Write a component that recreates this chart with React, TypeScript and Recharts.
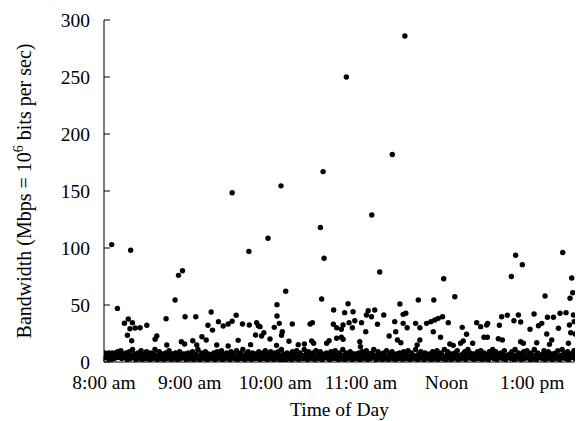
import React from 'react';
import { ScatterChart, Scatter, XAxis, YAxis, Label } from 'recharts';

const FONT = '"Liberation Serif", "Times New Roman", serif';
const FONT_SIZE = 19.5;

// minutes after 8:00 am
const timeTicks = [0, 60, 120, 180, 240, 300];
const timeTickLabels = ['8:00 am', '9:00 am', '10:00 am', '11:00 am', 'Noon', '1:00 pm'];
const bandwidthTicks = [0, 50, 100, 150, 200, 250, 300];

// [minutes after 8:00, Mbps]
const peakPoints: [number, number][] = [
  [5.4, 103], [18.7, 98], [52.2, 76], [55, 80], [89.8, 148.5], [101.5, 97], [114.9, 108.5],
  [124, 154.5], [127.3, 62], [151.6, 118], [153.5, 167], [154.2, 91], [169.8, 250],
  [187.6, 129], [193.2, 79], [202, 182], [210.8, 286], [238, 73], [285.4, 75], [288.4, 93.6],
  [293.1, 85.4], [321.4, 96], [327.7, 73.7], [328.4, 60.8],
];

const midPoints: [number, number][] = [
  [9.4, 47], [14.3, 34], [17, 37.7], [19.9, 34.5], [16.4, 23.4], [18.2, 29.2], [21.8, 29.8],
  [25.3, 30.1], [30, 32.2], [19.4, 18.7], [35.8, 19.9], [37, 22.8], [49.8, 54.4], [43.5, 38],
  [56.8, 39.7], [64.3, 39.7], [75.1, 43.9], [72.8, 32.2], [76, 28], [54.2, 17.8], [56.5, 15.8],
  [62.2, 18.7], [65, 14.9], [68.6, 22.2], [71.6, 19.3], [44, 14.9], [79, 14.9], [80.2, 35.4],
  [121.2, 50.3], [121.2, 40.4], [122.8, 33.9], [119.3, 30.4], [124.9, 26.6], [124.4, 23.4],
  [152.5, 55.3], [160.9, 45.6], [160.7, 33.1], [163, 30.1], [83.5, 31.6], [87, 33.3],
  [89.8, 35.7], [92.6, 41], [97, 33.3], [101.8, 32.5], [106.9, 34.5], [108.1, 31.8],
  [109.3, 31], [106.2, 23.7], [110.4, 22.8], [112, 25.7], [116.3, 20.2], [94, 19],
  [131.9, 33.3], [129.6, 18.2], [144.4, 33.3], [146, 34.5], [145.5, 18.4], [146.9, 16.4],
  [156, 16.4], [157.7, 18.7], [87, 14], [102.7, 15.2], [120.9, 14.6], [136.1, 15.2],
  [140.4, 15.8], [163, 20.8],
  [171, 51.1], [168.6, 43.3], [174.5, 44.1], [185.1, 45], [183.9, 41.2], [187.4, 39.7],
  [189.7, 45.6], [196, 41.2], [207.3, 50.9], [209.6, 41.8], [211.5, 42.7], [220.2, 54.4],
  [231.1, 54.4], [245.8, 57.3], [167.5, 32.5], [171.7, 34.5], [175.7, 36.2], [180.4, 34.5],
  [166.3, 28.7], [174, 30.1], [191.6, 33.1], [203.7, 35.4], [209.6, 33.9], [212.4, 30.1],
  [218.3, 33.9], [221.3, 30.1], [226, 33.9], [229, 35.4], [231.8, 36.8], [234.2, 38.3],
  [237.2, 39.7], [241.2, 34.5], [183.4, 26.6], [204.4, 26.6], [230.7, 26.6], [166.3, 21.7],
  [167.5, 19.9], [179.2, 17.8], [179.7, 13.4], [199.8, 22.8], [205.6, 19.3], [208, 16.9],
  [221.3, 19.3], [219.4, 14.9], [235.8, 21.7], [242.3, 15.8], [244.7, 14.6],
  [309, 57.9], [326.5, 55.9], [278.6, 39.7], [282.6, 41], [290.3, 41.2], [301.3, 42.1],
  [310.7, 39.2], [314.9, 39.2], [319.5, 42.7], [323.7, 43.3], [328.9, 41.2], [251, 30.4],
  [261.1, 34.5], [263.9, 31], [268.1, 32.5], [268.8, 33.9], [277, 32.2], [287.2, 36.2],
  [291.9, 35.1], [298.5, 28.7], [304.4, 31.8], [306.7, 33.9], [318.4, 29.6], [326.1, 32.5],
  [329.4, 35.4], [327, 25.7], [330.1, 24.6], [254, 24.3], [266.2, 21.7], [268.6, 21.7],
  [276.3, 20.4], [279.1, 19.3], [310.2, 24.6], [313.7, 19.3], [312.1, 15.5], [291.9, 17.8],
  [293.8, 16.4], [303.2, 16.9], [249.8, 16.4], [251.7, 18.4], [258.3, 16.4], [325.4, 16.4],
];

const lowPoints: [number, number][] = [
  [0.5, 8], [1.2, 4], [2, 7], [2.8, 3], [3.5, 8], [4.3, 5], [5, 2], [5.8, 8], [6.5, 6], [7.3, 3],
  [8, 8], [8.8, 5], [9.6, 9], [10.3, 4], [11, 7], [11.8, 10], [12.5, 3], [13.3, 6], [14, 7], [14.8, 4],
  [15.5, 8], [16.3, 2], [17, 5], [17.8, 9], [18.5, 3], [19.3, 6], [20, 11], [20.8, 4], [21.6, 7], [22.3, 2],
  [23, 5], [23.8, 8], [24.5, 3], [25.3, 6], [26, 10], [26.8, 2], [27.5, 5], [28.3, 7], [29, 3], [29.8, 9],
  [30.6, 4], [31.3, 6], [32, 2], [32.7, 8], [33.5, 5], [34.2, 3], [35, 7], [35.7, 11], [36.4, 4], [37.2, 2],
  [38, 6], [38.7, 9], [39.5, 3], [40.2, 5], [41, 7], [41.7, 2], [42.5, 4], [43.2, 8], [44.1, 3], [44.8, 6],
  [45.6, 10], [46.3, 4], [47, 2], [47.8, 7], [48.5, 5], [49.3, 3], [50, 8], [50.8, 6], [51.5, 2], [52.3, 4],
  [53, 9], [53.8, 3], [54.6, 6], [55.3, 7], [56, 4], [56.8, 7], [57.5, 2], [58.3, 5], [59, 8], [59.8, 3],
  [60.5, 6], [61.3, 4], [62, 9], [62.8, 2], [63.5, 5], [64.2, 7], [65.1, 3], [65.8, 11], [66.6, 5], [67.3, 2],
  [68, 8], [68.8, 4], [69.5, 6], [70.3, 3], [71, 9], [71.8, 5], [72.5, 2], [73.3, 7], [74, 4], [74.8, 6],
  [75.5, 3], [76.3, 6], [77, 8], [77.8, 2], [78.5, 5], [79.3, 9], [80, 3], [80.8, 6], [81.5, 4], [82.3, 10],
  [83, 2], [83.8, 7], [84.5, 5], [85.3, 3], [86, 8], [86.8, 4], [87.5, 6], [88.3, 2], [89, 9], [89.8, 4],
  [90.5, 7], [91.3, 3], [92, 5], [92.8, 10], [93.5, 2], [94.3, 6], [95, 4], [95.8, 8], [96.5, 3], [97.3, 11],
  [98, 5], [98.8, 2], [99.5, 7], [100.3, 4], [101, 9], [101.8, 3], [102.5, 6], [103.3, 2], [104, 8], [104.8, 5],
  [105.5, 7], [106.3, 3], [107, 7], [107.8, 4], [108.5, 9], [109.3, 2], [110, 6], [110.8, 4], [111.5, 8], [112.3, 3],
  [113, 10], [113.8, 5], [114.5, 2], [115.3, 7], [116, 4], [116.8, 9], [117.5, 3], [118.3, 6], [119, 2], [119.8, 8],
  [120.5, 5], [121.3, 3], [122, 9], [122.8, 6], [123.5, 2], [124.3, 11], [125, 4], [125.8, 7], [126.8, 0.5], [127.5, 5],
  [128.3, 8], [129, 3], [129.8, 6], [130.5, 6], [131.3, 2], [132, 9], [132.8, 4], [133.5, 7], [134.3, 3], [135, 10],
  [135.8, 5], [136.5, 2], [137.3, 8], [138, 4], [138.8, 6], [139.5, 3], [140.3, 11], [141, 5], [141.8, 7], [142.5, 2],
  [143.3, 9], [144, 4], [144.8, 6], [145.5, 3], [146.3, 8], [147, 5], [147.8, 2], [148.5, 10], [149.3, 4], [150, 7],
  [150.8, 3], [151.5, 9], [152.3, 5], [153, 2], [153.8, 6], [154.5, 7], [155.3, 4], [156, 8], [156.8, 3], [157.5, 6],
  [158.3, 2], [159, 9], [159.8, 5], [160.5, 7], [161.3, 3], [162, 10], [162.8, 4], [163.5, 6], [164.3, 2], [165, 8],
  [165.8, 5], [166.5, 3], [167.3, 11], [168, 6], [168.8, 2], [169.5, 8], [170.3, 4], [171, 6], [171.8, 3], [172.5, 9],
  [173.3, 5], [174, 2], [174.8, 7], [175.5, 4], [176.3, 7], [177, 3], [177.8, 6], [178.5, 8], [179.3, 2], [180, 5],
  [180.8, 9], [181.5, 3], [182.3, 6], [183, 4], [183.8, 10], [184.5, 2], [185.3, 7], [186, 5], [186.8, 3], [187.5, 8],
  [188.3, 4], [189, 11], [189.8, 6], [190.5, 2], [191.3, 5], [192, 9], [192.8, 3], [193.5, 7], [194.3, 4], [195, 2],
  [195.8, 8], [196.5, 6], [197.3, 3], [198, 10], [198.8, 5], [199.5, 2], [200.3, 7], [201, 4], [201.8, 9], [202.5, 3],
  [203.3, 6], [204, 2], [204.8, 7], [205.5, 5], [206.3, 3], [207, 8], [207.8, 4], [208.5, 6], [209.3, 2], [210, 9],
  [210.8, 4], [211.5, 7], [212.3, 3], [213, 10], [213.8, 5], [214.5, 2], [215.3, 8], [216, 4], [216.8, 6], [217.5, 3],
  [218.3, 11], [219, 5], [219.8, 2], [220.5, 7], [221.3, 4], [222, 9], [222.8, 3], [223.5, 6], [224.3, 2], [225, 8],
  [225.8, 5], [226.5, 6], [227.3, 3], [228, 7], [228.8, 4], [229.5, 2], [230.3, 9], [231, 5], [231.8, 3], [232.5, 6],
  [233.3, 10], [234, 2], [234.8, 7], [235.5, 4], [236.3, 8], [237, 3], [237.8, 5], [238.5, 11], [239.3, 2], [240, 6],
  [240.8, 9], [241.5, 4], [242.3, 7], [243, 2], [243.8, 7], [244.5, 5], [245.3, 3], [246, 8], [246.8, 6], [247.5, 10],
  [248.3, 2], [249, 5], [249.8, 6], [250.5, 3], [251.3, 7], [252, 4], [252.8, 9], [253.5, 2], [254.3, 6], [255, 11],
  [255.8, 4], [256.5, 8], [257.3, 3], [258, 5], [258.8, 7], [259.5, 2], [260.3, 7], [261, 4], [261.8, 9], [262.5, 3],
  [263.3, 6], [264, 10], [264.8, 2], [265.5, 5], [266.3, 8], [267, 3], [267.8, 6], [268.5, 6], [269.3, 2], [270, 9],
  [270.8, 4], [271.5, 7], [272.3, 11], [273, 3], [273.8, 5], [274.5, 9], [275.3, 2], [276, 6], [276.8, 7], [277.5, 4],
  [278.3, 8], [279, 3], [279.8, 6], [280.5, 10], [281.3, 2], [282, 5], [282.8, 6], [283.5, 4], [284.3, 7], [285, 3],
  [285.8, 9], [286.5, 5], [287.3, 2], [288, 11], [288.8, 6], [289.5, 3], [290.3, 8], [291, 4], [291.8, 7], [292.5, 2],
  [293.3, 6], [294, 9], [294.8, 3], [295.5, 5], [296.3, 10], [297, 4], [297.8, 7], [298.5, 2], [299.3, 8], [300, 5],
  [300.8, 3], [301.5, 11], [302.3, 6], [303, 2], [303.8, 8], [304.5, 4], [305.3, 6], [306, 5], [306.8, 3], [307.5, 7],
  [308.3, 10], [309, 2], [309.8, 6], [310.5, 4], [311.3, 9], [312, 3], [312.8, 5], [313.5, 7], [314.3, 2], [315, 7],
  [315.8, 4], [316.5, 8], [317.3, 3], [318, 10], [318.8, 5], [319.5, 2], [320.3, 6], [321, 11], [321.8, 4], [322.5, 8],
  [323.3, 3], [324, 5], [324.8, 9], [325.5, 2], [326.3, 7], [327, 7], [327.8, 4], [328.5, 6], [329.3, 10], [330, 3],
];

const data = [...lowPoints, ...midPoints, ...peakPoints].map(([t, v]) => ({ t, v }));

const formatTime = (value: number) => {
  const i = timeTicks.indexOf(value);
  return i >= 0 ? timeTickLabels[i] : '';
};

const Dot = (props: any) => <circle cx={props.cx} cy={props.cy} r={2.7} fill="#000" />;

const YLabel = (props: any) => {
  const vb = props.viewBox || { x: 0, y: 20, width: 104, height: 342 };
  const cx = vb.x + 31;
  const cy = vb.y + vb.height / 2;
  return (
    <text
      x={cx}
      y={cy}
      transform={`rotate(-90 ${cx} ${cy})`}
      textAnchor="middle"
      fontFamily={FONT}
      fontSize={20}
      fill="#000"
    >
      Bandwidth (Mbps = 10
      <tspan dy={-8} fontSize={14}>6</tspan>
      <tspan dy={8}> bits per sec)</tspan>
    </text>
  );
};

const tickStyle = { fontSize: FONT_SIZE, fill: '#000', fontFamily: FONT };

export default function App() {
  return (
    <div style={{ position: 'absolute', left: 0, top: 0, width: 576, height: 421, background: '#fff' }}>
      <ScatterChart width={576} height={421} margin={{ top: 20, right: 1, bottom: 0, left: 0 }}>
        <XAxis
          xAxisId="b"
          type="number"
          dataKey="t"
          domain={[0, 330]}
          ticks={timeTicks}
          interval={0}
          tickFormatter={formatTime}
          orientation="bottom"
          height={59}
          stroke="#000"
          tickSize={-6}
          tickMargin={19}
          tick={tickStyle}
          allowDataOverflow
        >
          <Label
            value="Time of Day"
            position="insideBottom"
            offset={5}
            style={{ fontSize: FONT_SIZE, fill: '#000', fontFamily: FONT }}
          />
        </XAxis>
        <XAxis
          xAxisId="t"
          type="number"
          orientation="top"
          domain={[0, 330]}
          ticks={timeTicks}
          interval={0}
          height={0}
          stroke="#000"
          tickSize={-6}
          tickFormatter={() => ''}
          allowDataOverflow
        />
        <YAxis
          yAxisId="l"
          type="number"
          dataKey="v"
          domain={[0, 300]}
          ticks={bandwidthTicks}
          interval={0}
          width={104}
          stroke="#000"
          tickSize={-6}
          tickMargin={20}
          tick={tickStyle}
          allowDataOverflow
        >
          <Label content={<YLabel />} />
        </YAxis>
        <YAxis
          yAxisId="r"
          type="number"
          orientation="right"
          domain={[0, 300]}
          ticks={bandwidthTicks}
          interval={0}
          width={0}
          stroke="#000"
          tickSize={-6}
          tickFormatter={() => ''}
          allowDataOverflow
        />
        <Scatter
          xAxisId="b"
          yAxisId="l"
          data={data}
          fill="#000"
          shape={<Dot />}
          isAnimationActive={false}
        />
      </ScatterChart>
    </div>
  );
}
